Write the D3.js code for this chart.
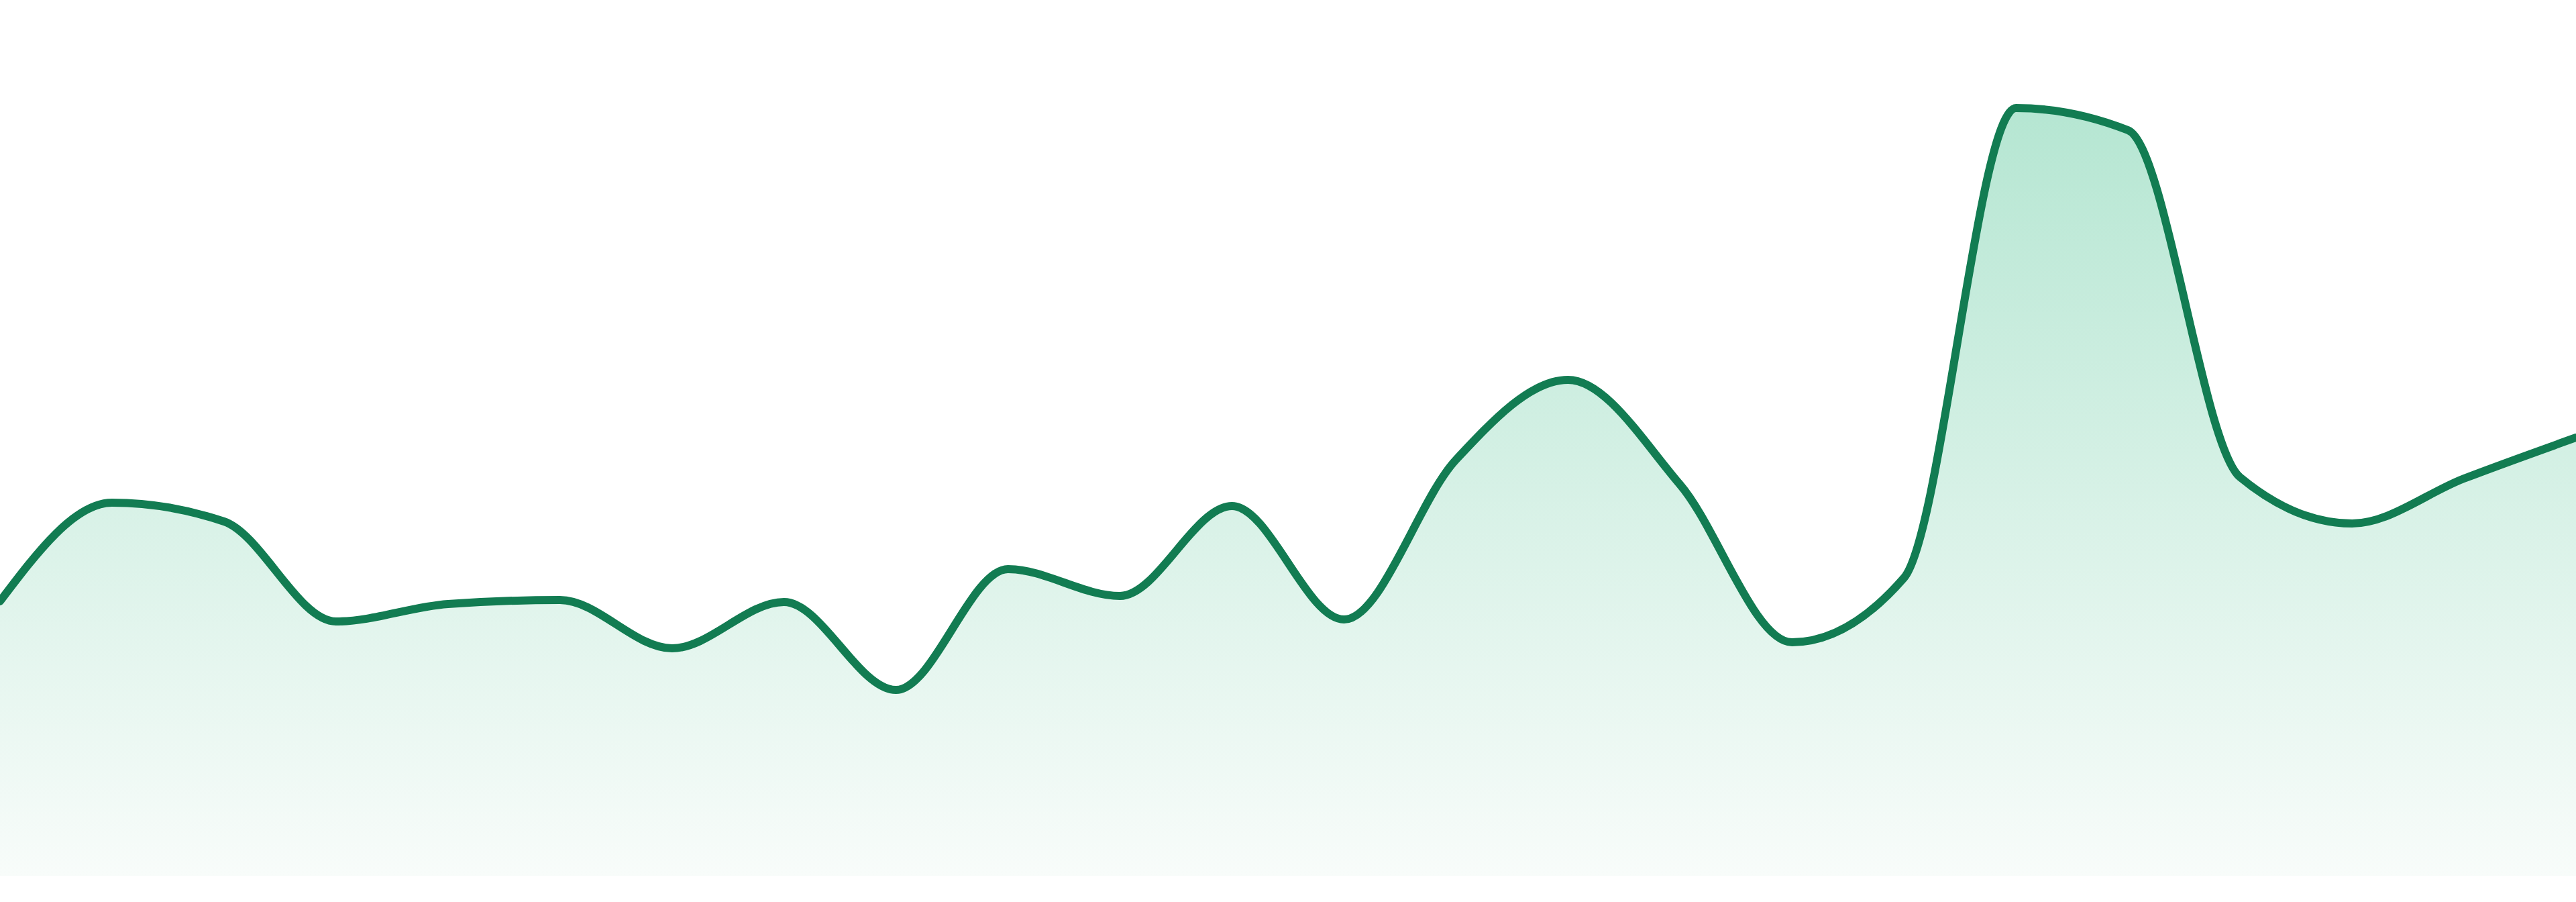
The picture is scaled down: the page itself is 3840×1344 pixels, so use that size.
<!DOCTYPE html>
<html>
<head>
<meta charset="utf-8">
<script src="https://cdn.jsdelivr.net/npm/d3@7"></script>
<style>
  html, body { margin: 0; padding: 0; background: #ffffff; }
  svg { display: block; }
</style>
</head>
<body>
<svg id="chart" width="3840" height="1344"></svg>
<script>
// Data (24 evenly spaced observations)
const categories = ["P1","P2","P3","P4","P5","P6","P7","P8","P9","P10","P11","P12",
                    "P13","P14","P15","P16","P17","P18","P19","P20","P21","P22","P23","P24"];
const values = [40.9, 55.6, 52.8, 37.9, 40.5, 41.1, 33.9, 40.8, 27.7, 45.7, 41.7, 55.1,
                38.2, 62.0, 73.9, 58.3, 34.8, 44.4, 114.4, 111.1, 59.4, 52.5, 59.2, 65.3];
const yDomain = [0, 120];

const W = 3840, H = 1344;
const svg = d3.select("#chart");

const x = d3.scalePoint().domain(categories).range([0, W]);
const y = d3.scaleLinear().domain(yDomain).range([1305, 105]);

const data = categories.map((c, i) => ({ c, v: values[i] }));

const defs = svg.append("defs");
const grad = defs.append("linearGradient")
  .attr("id", "fillGrad")
  .attr("x1", 0).attr("y1", 0).attr("x2", 0).attr("y2", 1);
grad.append("stop").attr("offset", "0%").attr("stop-color", "rgb(181,230,210)");
grad.append("stop").attr("offset", "100%").attr("stop-color", "rgb(248,252,250)");

const area = d3.area()
  .x(d => x(d.c))
  .y0(y(0))
  .y1(d => y(d.v))
  .curve(d3.curveMonotoneX);

const line = d3.line()
  .x(d => x(d.c))
  .y(d => y(d.v))
  .curve(d3.curveMonotoneX);

svg.append("path")
  .datum(data)
  .attr("d", area)
  .attr("fill", "url(#fillGrad)");

svg.append("path")
  .datum(data)
  .attr("d", line)
  .attr("fill", "none")
  .attr("stroke", "#127c52")
  .attr("stroke-width", 12)
  .attr("stroke-linejoin", "round")
  .attr("stroke-linecap", "round");
</script>
</body>
</html>
